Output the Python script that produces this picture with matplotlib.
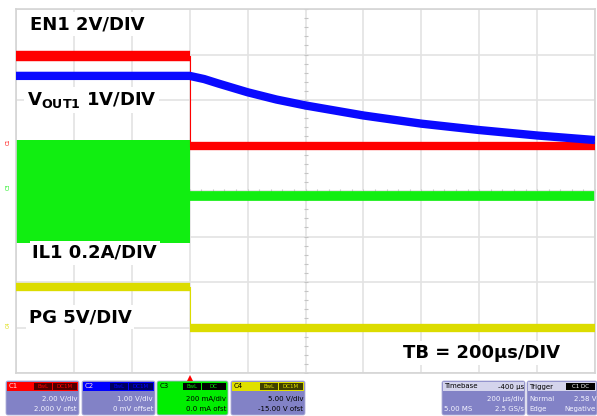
import matplotlib.pyplot as plt
from matplotlib.patches import FancyBboxPatch, Rectangle

plt.rcParams['font.family'] = ['DejaVu Sans']
plt.rcParams['mathtext.fontset'] = 'custom'
plt.rcParams['mathtext.rm'] = 'DejaVu Sans:bold'
plt.rcParams['mathtext.default'] = 'rm'

# values in screen divisions (10 x 8 grid, 0 = centre line), trigger at 3 div
trig = 3.0
en1_high, en1_low = 2.97, 0.99
vout_t = [0, 3.0, 3.25, 3.5, 4.0, 4.5, 5.0, 6.0, 7.0, 8.0, 9.0, 10.0]
vout_div = [2.53, 2.53, 2.46, 2.36, 2.17, 2.01, 1.88, 1.66, 1.48, 1.34, 1.22, 1.12]
il1_pre_top, il1_pre_bot = 1.11, -1.14
il1_post = -0.12
pg_high, pg_low = -2.11, -3.0

ch_names = ['C1', 'C2', 'C3', 'C4']
ch_scale = ['2.00 V/div', '1.00 V/div', '200 mA/div', '5.00 V/div']
ch_offset = ['2.000 V ofst', '0 mV offset', '0.0 mA ofst', '-15.00 V ofst']
ch_colors = ['#ff0000', '#0000ff', '#00ee00', '#e0e000']
ch_badge = ['#500000', '#000060', '#000000', '#404000']
ch_boxes = [(6, 79), (82, 155), (157, 228), (231, 305)]

red, blue, green, yellow = '#ff0000', '#0a0aff', '#11ee11', '#dcdc00'

fig = plt.figure(figsize=(5.97, 4.16), dpi=100)
ax = fig.add_axes([16 / 597, 43 / 416, 579 / 597, 364 / 416])
ax.set_xlim(0, 10)
ax.set_ylim(-4, 4)
ax.set_xticks(range(11))
ax.set_yticks(range(-4, 5))
ax.tick_params(length=0, labelbottom=False, labelleft=False)
ax.grid(True, color='#e3e3e3', lw=1.2)
for s in ax.spines.values():
    s.set_color('#d4d4d4')
    s.set_linewidth(1.2)

# minor ticks on centre lines
mt = [i / 5 for i in range(-20, 21)]
ax.plot([5] * len(mt), mt, ls='none', marker='_', ms=3.5, color='#c4c4c4', mew=0.8)
mtx = [i / 5 for i in range(51)]
ax.plot(mtx, [0] * len(mtx), ls='none', marker='|', ms=3.5, color='#c4c4c4', mew=0.8)

# EN1
ax.plot([0, trig], [en1_high, en1_high], color=red, lw=7.5, solid_capstyle='butt', zorder=3)
ax.plot([trig, trig], [en1_high, en1_low], color=red, lw=0.8, zorder=3)
ax.plot([trig, 10], [en1_low, en1_low], color=red, lw=6, solid_capstyle='butt', zorder=3)
# VOUT1
ax.plot(vout_t, vout_div, color=blue, lw=6, solid_capstyle='butt', zorder=4)
# IL1
ax.fill_between([0, trig], il1_pre_bot, il1_pre_top, color=green, lw=0, zorder=2)
ax.plot([trig, 10], [il1_post, il1_post], color=green, lw=7, solid_capstyle='butt', zorder=2)
# PG
ax.plot([0, trig], [pg_high, pg_high], color=yellow, lw=6, solid_capstyle='butt', zorder=3)
ax.plot([trig, trig], [pg_high, pg_low], color=yellow, lw=0.8, zorder=3)
ax.plot([trig, 10], [pg_low, pg_low], color=yellow, lw=6, solid_capstyle='butt', zorder=3)

box = dict(facecolor='white', edgecolor='none', pad=2)
kw = dict(fontsize=13, fontweight='bold', va='center', ha='left', bbox=box, zorder=6)
ax.text(0.24, 3.67, 'EN1 2V/DIV', **kw)
ax.text(0.19, 2.0, r'V$_{\mathrm{OUT1}}$ 1V/DIV', **kw)
ax.text(0.28, -1.36, 'IL1 0.2A/DIV', **kw)
ax.text(0.22, -2.77, 'PG 5V/DIV', **kw)
ax.text(6.68, -3.56, 'TB = 200µs/DIV', **kw)

# channel markers at left edge
for lbl, yv, c in [('C1', en1_low + 0.1, red), ('C3', 0.1, green), ('C4', -2.95, yellow)]:
    fig.text(8 / 597, ax.transData.transform((0, yv))[1] / 416, lbl, rotation=90,
             fontsize=3.5, color=c, ha='center', va='center')

# status bar in pixel coords
bar = fig.add_axes([0, 0, 1, 43 / 416])
bar.set_xlim(0, 597)
bar.set_ylim(416, 373)
bar.axis('off')
bar.plot([16 + trig * 57.9], [377.5], marker='^', ms=5, color=red, mew=0)

body = '#8282c6'
for i in range(4):
    x0, x1 = ch_boxes[i]
    face = ch_colors[i] if i == 2 else body
    bar.add_patch(FancyBboxPatch((x0, 381), x1 - x0, 34, boxstyle='round,pad=0,rounding_size=2',
                                 fc=face, ec='#b0b0d8', lw=0.6))
    bar.add_patch(Rectangle((x0 + 1, 381.5), x1 - x0 - 2, 9.5, fc=ch_colors[i], lw=0))
    tc = 'black' if i in (2, 3) else '#f4f4ff'
    hc = 'black' if i in (2, 3) else '#ffdddd'
    bar.text(x0 + 3, 386.5, ch_names[i], fontsize=5, color=hc, va='center')
    bar.add_patch(Rectangle((x1 - 45, 382.5), 18, 7.5, fc=ch_badge[i], lw=0))
    bar.add_patch(Rectangle((x1 - 26, 382.5), 24, 7.5, fc=ch_badge[i], lw=0))
    bar.text(x1 - 36, 386.5, 'BwL', fontsize=4, color=ch_colors[i], ha='center', va='center')
    bar.text(x1 - 14, 386.5, 'DC1M' if i != 2 else 'DC', fontsize=4, color=ch_colors[i],
             ha='center', va='center')
    bar.text(x1 - 2, 399, ch_scale[i], fontsize=5, color=tc, ha='right', va='center')
    bar.text(x1 - 2, 409, ch_offset[i], fontsize=5, color=tc, ha='right', va='center')

# timebase / trigger boxes
for x0, x1 in [(442, 525), (527, 597)]:
    bar.add_patch(FancyBboxPatch((x0, 381), x1 - x0, 34, boxstyle='round,pad=0,rounding_size=2',
                                 fc=body, ec='#b0b0d8', lw=0.6))
    bar.add_patch(Rectangle((x0 + 1, 381.5), x1 - x0 - 2, 9.5, fc='#d4d4ec', lw=0))
bar.text(444, 386.5, 'Timebase', fontsize=5, color='black', va='center')
bar.text(524, 386.5, '-400 µs', fontsize=5, color='black', va='center', ha='right')
bar.text(524, 399, '200 µs/div', fontsize=5, color='#f4f4ff', va='center', ha='right')
bar.text(444, 409, '5.00 MS', fontsize=5, color='#f4f4ff', va='center')
bar.text(524, 409, '2.5 GS/s', fontsize=5, color='#f4f4ff', va='center', ha='right')
bar.text(529, 386.5, 'Trigger', fontsize=5, color='black', va='center')
bar.add_patch(Rectangle((566, 382.5), 29, 7.5, fc='black', lw=0))
bar.text(580, 386.5, 'C1 DC', fontsize=4, color='white', va='center', ha='center')
bar.text(529, 399, 'Normal', fontsize=5, color='#f4f4ff', va='center')
bar.text(596, 399, '2.58 V', fontsize=5, color='#f4f4ff', va='center', ha='right')
bar.text(529, 409, 'Edge', fontsize=5, color='#f4f4ff', va='center')
bar.text(596, 409, 'Negative', fontsize=5, color='#f4f4ff', va='center', ha='right')

fig.savefig('out.png', dpi=100)
